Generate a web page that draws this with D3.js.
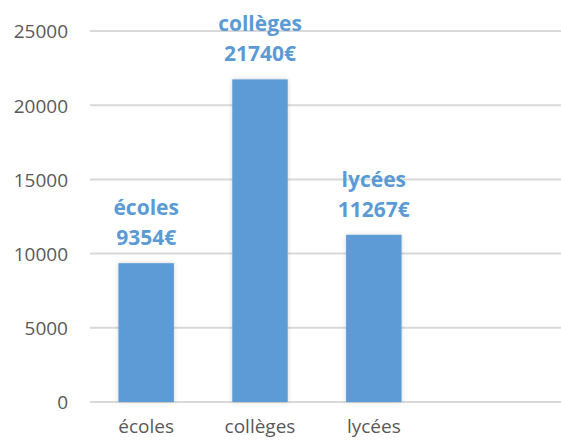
<!DOCTYPE html>
<html>
<head>
<meta charset="utf-8">
<script src="https://cdn.jsdelivr.net/npm/d3@7"></script>
<style>
  body { margin: 0; background: #fff; }
  text { font-family: "Open Sans", sans-serif; }
</style>
</head>
<body>
<div id="chart"></div>
<script>
// categories and values
const CATEGORIES = ["écoles", "collèges", "lycées"];
const VALUES = [9354, 21740, 11267];
const Y_TICKS = [0, 5000, 10000, 15000, 20000, 25000];

const WIDTH = 561;
const HEIGHT = 440;
const BAR_COLOR = "#5b9bd5";

const SVG = d3.select("#chart").append("svg")
  .attr("width", WIDTH)
  .attr("height", HEIGHT);

const DEFS = SVG.append("defs");
const SHADOW = DEFS.append("filter")
  .attr("id", "shadow")
  .attr("x", "-20%").attr("y", "-20%")
  .attr("width", "140%").attr("height", "140%");
SHADOW.append("feDropShadow")
  .attr("dx", 0).attr("dy", 0)
  .attr("stdDeviation", 2)
  .attr("flood-color", "#000")
  .attr("flood-opacity", 0.18);

const X = d3.scaleBand()
  .domain(CATEGORIES)
  .range([90, 430])
  .paddingInner(0.513)
  .paddingOuter(0.25);

const Y = d3.scaleLinear()
  .domain([0, 25000])
  .range([402, 31]);

// GRIDLINES
SVG.append("g")
  .selectAll("line")
  .data(Y_TICKS)
  .join("line")
  .attr("x1", 90)
  .attr("x2", WIDTH)
  .attr("y1", d => Y(d))
  .attr("y2", d => Y(d))
  .attr("stroke", "#d9d9d9")
  .attr("stroke-width", 2);

// Y AXIS
const yAxis = SVG.append("g")
  .attr("transform", "translate(68,0)")
  .call(d3.axisLeft(Y).tickValues(Y_TICKS).tickFormat(d3.format("d")).tickSize(0).tickPadding(0));
yAxis.select(".domain").remove();
yAxis.selectAll("text")
  .attr("fill", "#595959")
  .style("font-size", "19px")
  .style("font-family", "'Open Sans', sans-serif")
  .attr("dy", "0.36em");

// BARS
SVG.append("g")
  .selectAll("rect")
  .data(CATEGORIES)
  .join("rect")
  .attr("x", d => X(d))
  .attr("width", X.bandwidth())
  .attr("y", (d, i) => Y(VALUES[i]))
  .attr("height", (d, i) => Y(0) - Y(VALUES[i]))
  .attr("fill", BAR_COLOR)
  .attr("filter", "url(#shadow)");

// X AXIS LABELS
const xAxis = SVG.append("g")
  .attr("transform", "translate(0," + Y(0) + ")")
  .call(d3.axisBottom(X).tickSize(0).tickPadding(0));
xAxis.select(".domain").remove();
xAxis.selectAll("text")
  .attr("fill", "#595959")
  .style("font-size", "19px")
  .style("font-family", "'Open Sans', sans-serif")
  .attr("y", 31)
  .attr("dy", 0);

// DATA LABELS
const labels = SVG.append("g")
  .selectAll("text")
  .data(CATEGORIES)
  .join("text")
  .attr("x", d => X(d) + X.bandwidth() / 2)
  .attr("y", (d, i) => Y(VALUES[i]) - 48)
  .attr("text-anchor", "middle")
  .attr("fill", BAR_COLOR)
  .style("font-size", "21px")
  .style("font-weight", "bold");
labels.append("tspan")
  .attr("x", d => X(d) + X.bandwidth() / 2)
  .text(d => d);
labels.append("tspan")
  .attr("x", d => X(d) + X.bandwidth() / 2)
  .attr("dy", 30)
  .text((d, i) => VALUES[i] + "€");
</script>
</body>
</html>
